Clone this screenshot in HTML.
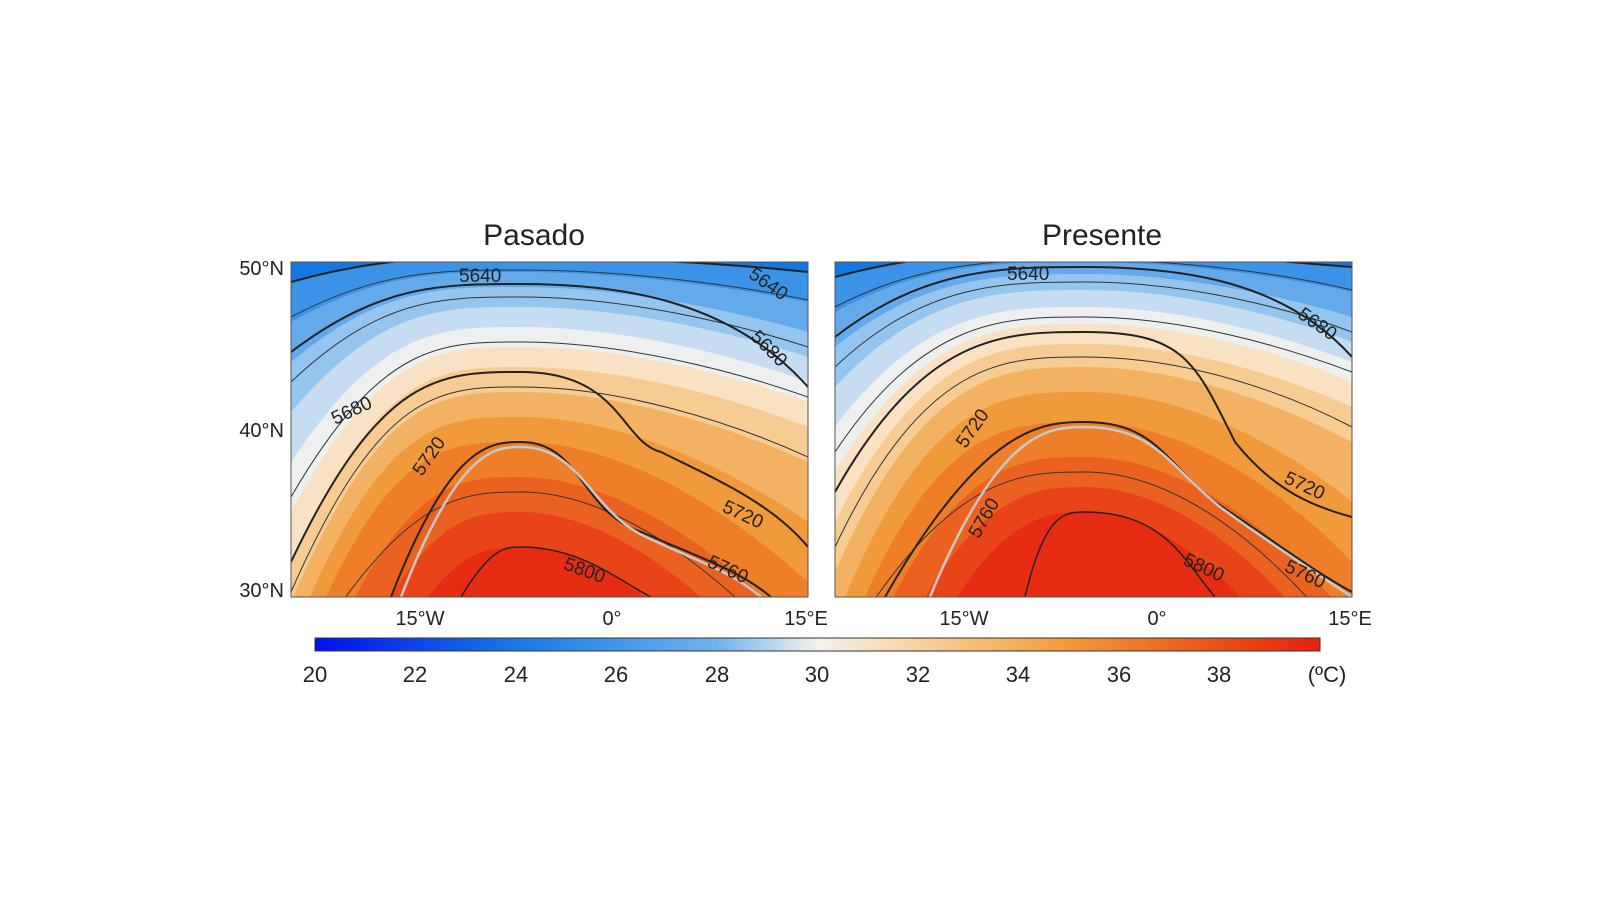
<!DOCTYPE html>
<html><head><meta charset="utf-8"><style>
body{margin:0;background:#fff;width:1600px;height:900px;overflow:hidden}
svg{position:absolute;left:0;top:0}
text{font-family:"Liberation Sans",sans-serif;fill:#222}
</style></head><body>
<svg width="1600" height="900" viewBox="0 0 1600 900">
<defs>
<clipPath id="cp"><rect x="0" y="0" width="517" height="335"/></clipPath>
<linearGradient id="cb" x1="0" x2="1" y1="0" y2="0">
<stop offset="0" stop-color="#0010f0"/>
<stop offset="0.2" stop-color="#1a78e6"/>
<stop offset="0.4" stop-color="#6fb3ec"/>
<stop offset="0.5" stop-color="#f4f2ee"/>
<stop offset="0.6" stop-color="#f7d3a0"/>
<stop offset="0.75" stop-color="#f19a3a"/>
<stop offset="0.9" stop-color="#ea5018"/>
<stop offset="1" stop-color="#e82010"/>
</linearGradient>
</defs>

<text x="534" y="245" font-size="30" text-anchor="middle">Pasado</text>
<text x="1102" y="245" font-size="30" text-anchor="middle">Presente</text>

<!-- Left panel -->
<g transform="translate(291,262)" clip-path="url(#cp)">
<rect width="517" height="335" fill="#1577e0"/>
<path d="M0,20 C90,-5 150,-5 230,-5 C330,-5 440,2 517,10 L517,335 L0,335Z" fill="#3a93e6"/>
<path d="M0,60 C90,10 150,10 230,10 C330,10 440,25 517,40 L517,335 L0,335Z" fill="#64aaea"/>
<path d="M0,100 C90,25 150,25 230,25 C330,25 440,48 517,70 L517,335 L0,335Z" fill="#94c5ef"/>
<path d="M0,150 C90,45 150,45 230,45 C330,45 440,70 517,95 L517,335 L0,335Z" fill="#c6ddf1"/>
<path d="M0,200 C90,65 150,65 230,65 C330,65 440,92 517,120 L517,335 L0,335Z" fill="#eef0ef"/>
<path d="M0,250 C90,85 150,85 230,85 C330,85 440,112 517,140 L517,335 L0,335Z" fill="#f9e2c4"/>
<path d="M0,300 C90,105 150,105 230,105 C330,105 440,135 517,165 L517,335 L0,335Z" fill="#f6cc92"/>
<path d="M0,340 C90,130 150,130 230,130 C330,130 440,165 517,200 L517,335 L0,335Z" fill="#f3b261"/>
<path d="M0,380 C90,155 150,155 230,155 C330,155 440,207 517,260 L517,335 L0,335Z" fill="#f09a3c"/>
<path d="M0,420 C90,180 150,180 230,180 C330,180 440,250 517,320 L517,335 L0,335Z" fill="#ee7f28"/>
<path d="M0,480 C100,215 160,215 230,215 C330,215 440,297 517,380 L517,335 L0,335Z" fill="#eb6220"/>
<path d="M0,560 C110,250 170,250 230,250 C330,250 440,350 517,450 L517,335 L0,335Z" fill="#e94418"/>
<path d="M0,640 C120,285 180,285 230,285 C330,285 440,402 517,520 L517,335 L0,335Z" fill="#e62d14"/>
<g fill="none" stroke="#333" stroke-width="1">
<path d="M0,55 C90,8 150,8 230,8 C330,8 440,22 517,38"/>
<path d="M0,120 C90,35 150,35 230,35 C330,35 440,60 517,85"/>
<path d="M0,235 C90,80 150,80 230,80 C330,80 440,108 517,135"/>
<path d="M0,330 C90,125 150,125 230,125 C330,125 440,160 517,195"/>
<path d="M0,420 C110,230 170,230 230,230 C330,230 440,320 517,410"/>
</g>
<g fill="none" stroke="#222" stroke-width="2">
<path d="M0,20 C90,-5 150,-5 230,-5 C330,-5 440,2 517,10"/>
<path d="M0,90 C90,22 150,22 230,22 C330,22 440,38 517,125"/>
<path d="M0,300 C90,110 150,110 230,110 C330,110 330,180 370,190 C420,215 480,240 517,285"/>
<path d="M100,335 C160,180 200,180 230,180 C290,180 290,250 350,270 C420,300 450,310 480,335"/>
</g>
<path d="M110,335 C168,185 205,185 230,185 C290,185 300,250 355,275 C420,305 440,310 470,335" fill="none" stroke="#c8c8c8" stroke-width="2.5"/>
<path d="M170,335 C200,285 215,285 230,285 C290,285 330,320 360,335" fill="none" stroke="#222" stroke-width="1.5"/>
<g font-size="19" fill="#222">
<text x="168" y="20">5640</text>
<text x="455" y="30" transform="rotate(35 480 25)">5640</text>
<text x="455" y="95" transform="rotate(45 480 90)">5680</text>
<text x="40" y="155" transform="rotate(-25 60 150)">5680</text>
<text x="110" y="205" transform="rotate(-55 130 190)">5720</text>
<text x="430" y="260" transform="rotate(25 455 255)">5720</text>
<text x="415" y="315" transform="rotate(25 440 310)">5760</text>
<text x="272" y="315" transform="rotate(20 295 310)">5800</text>
</g>
</g>
<rect x="291" y="262" width="517" height="335" fill="none" stroke="#555" stroke-width="1"/>

<!-- Right panel -->
<g transform="translate(835,262)" clip-path="url(#cp)">
<rect width="517" height="335" fill="#1577e0"/>
<path d="M0,15 C90,-10 170,-10 250,-10 C350,-10 450,0 517,5 L517,335 L0,335Z" fill="#3a93e6"/>
<path d="M0,50 C90,0 170,0 250,0 C350,0 450,15 517,30 L517,335 L0,335Z" fill="#64aaea"/>
<path d="M0,85 C90,12 170,12 250,12 C350,12 450,35 517,55 L517,335 L0,335Z" fill="#94c5ef"/>
<path d="M0,125 C90,28 170,28 250,28 C350,28 450,55 517,80 L517,335 L0,335Z" fill="#c6ddf1"/>
<path d="M0,165 C90,45 170,45 250,45 C350,45 450,75 517,100 L517,335 L0,335Z" fill="#eef0ef"/>
<path d="M0,210 C90,62 170,62 250,62 C350,62 450,92 517,120 L517,335 L0,335Z" fill="#f9e2c4"/>
<path d="M0,260 C90,82 170,82 250,82 C350,82 450,115 517,145 L517,335 L0,335Z" fill="#f6cc92"/>
<path d="M0,310 C90,105 170,105 250,105 C350,105 450,145 517,180 L517,335 L0,335Z" fill="#f3b261"/>
<path d="M0,360 C90,130 170,130 250,130 C350,130 450,185 517,240 L517,335 L0,335Z" fill="#f09a3c"/>
<path d="M0,410 C90,160 170,160 250,160 C350,160 450,230 517,300 L517,335 L0,335Z" fill="#ee7f28"/>
<path d="M0,470 C100,195 180,195 250,195 C350,195 450,275 517,360 L517,335 L0,335Z" fill="#eb6220"/>
<path d="M0,540 C110,225 190,225 250,225 C350,225 450,320 517,420 L517,335 L0,335Z" fill="#e94418"/>
<path d="M0,620 C120,250 200,250 250,250 C350,250 450,370 517,490 L517,335 L0,335Z" fill="#e62d14"/>
<g fill="none" stroke="#333" stroke-width="1">
<path d="M0,45 C90,-2 170,-2 250,-2 C350,-2 450,12 517,28"/>
<path d="M0,105 C90,20 170,20 250,20 C350,20 450,45 517,70"/>
<path d="M0,190 C90,55 170,55 250,55 C350,55 450,85 517,110"/>
<path d="M0,285 C90,95 170,95 250,95 C350,95 450,130 517,165"/>
<path d="M0,400 C110,210 185,210 250,210 C350,210 450,300 517,390"/>
</g>
<g fill="none" stroke="#222" stroke-width="2">
<path d="M0,15 C90,-10 170,-10 250,-10 C350,-10 450,0 517,5"/>
<path d="M0,75 C90,5 170,5 250,5 C350,5 450,20 517,95"/>
<path d="M0,230 C90,70 170,70 250,70 C350,70 360,100 400,180 C440,230 480,245 517,255"/>
<path d="M50,335 C150,160 210,160 250,160 C320,160 330,200 380,240 C440,280 480,310 517,330"/>
</g>
<path d="M95,335 C165,165 215,165 250,165 C320,165 335,205 385,245 C440,285 480,310 517,335" fill="none" stroke="#c8c8c8" stroke-width="2.5"/>
<path d="M190,335 C210,250 230,250 250,250 C330,250 350,300 380,335" fill="none" stroke="#222" stroke-width="1.5"/>
<g font-size="19" fill="#222">
<text x="172" y="18">5640</text>
<text x="460" y="70" transform="rotate(35 485 65)">5680</text>
<text x="112" y="178" transform="rotate(-55 130 165)">5720</text>
<text x="448" y="230" transform="rotate(25 470 225)">5720</text>
<text x="125" y="265" transform="rotate(-60 145 255)">5760</text>
<text x="450" y="318" transform="rotate(25 470 310)">5760</text>
<text x="348" y="312" transform="rotate(25 370 305)">5800</text>
</g>
</g>
<rect x="835" y="262" width="517" height="335" fill="none" stroke="#555" stroke-width="1"/>

<!-- axis labels -->
<g font-size="20">
<text x="284" y="275" text-anchor="end">50°N</text>
<text x="284" y="437" text-anchor="end">40°N</text>
<text x="284" y="597" text-anchor="end">30°N</text>
<text x="420" y="625" text-anchor="middle">15°W</text>
<text x="612" y="625" text-anchor="middle">0°</text>
<text x="806" y="625" text-anchor="middle">15°E</text>
<text x="964" y="625" text-anchor="middle">15°W</text>
<text x="1157" y="625" text-anchor="middle">0°</text>
<text x="1350" y="625" text-anchor="middle">15°E</text>
</g>

<!-- colorbar -->
<rect x="315" y="638" width="1005" height="13" fill="url(#cb)" stroke="#333" stroke-width="1"/>
<g font-size="22" text-anchor="middle">
<text x="315" y="682">20</text><text x="415" y="682">22</text><text x="516" y="682">24</text>
<text x="616" y="682">26</text><text x="717" y="682">28</text><text x="817" y="682">30</text>
<text x="918" y="682">32</text><text x="1018" y="682">34</text><text x="1119" y="682">36</text>
<text x="1219" y="682">38</text><text x="1327" y="682">(ºC)</text>
</g>
</svg>
</body></html>
